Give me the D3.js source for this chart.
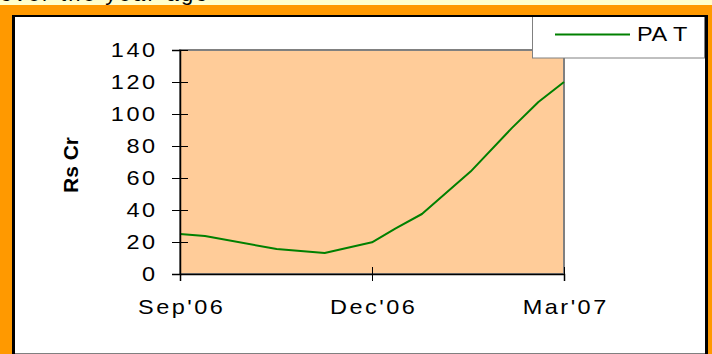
<!DOCTYPE html>
<html>
<head>
<meta charset="utf-8">
<script src="https://cdn.jsdelivr.net/npm/d3@7/dist/d3.min.js"></script>
<style>
  body { margin: 0; background: #fff; }
  svg { display: block; }
  text { font-family: "Liberation Sans", Arial, sans-serif; }
</style>
</head>
<body>
<svg id="chart" width="712" height="354"></svg>
<script>
// ---- Data ----
// Position along the time axis, in months after Sep'06
const monthOffsets = [0, 0.39, 1.51, 2.26, 3.0, 3.37, 3.78, 4.54, 5.18, 5.6, 6.0];
// PAT values, Rs Cr
const patValues    = [25, 23.7, 15.6, 13.1, 19.8, 28.5, 37.5, 64, 91, 107.5, 120];
const seriesName   = "PA T";
const xTickValues  = [0, 3, 6];
const xTickLabels  = ["Sep'06", "Dec'06", "Mar'07"];
const yTickValues  = [0, 20, 40, 60, 80, 100, 120, 140];
const yLabel       = "Rs Cr";
const headerText   = "over the year-ago";

const svg = d3.select("#chart");
const W = 712, H = 354;
const SX = 1.12, LS = 2.2;

// outer frame
svg.append("rect").attr("x", 0).attr("y", 0).attr("width", W).attr("height", H).attr("fill", "#FF9900");
svg.append("rect").attr("x", 0).attr("y", 0).attr("width", W).attr("height", 5).attr("fill", "#FFFFCC");
svg.append("text").attr("x", 0).attr("y", 0.5).attr("font-size", 20)
  .attr("letter-spacing", 2)
  .attr("transform", "scale(1.1,1)").attr("fill", "#000").text(headerText);
svg.append("rect").attr("x", 12).attr("y", 15).attr("width", 696).attr("height", 339).attr("fill", "#000");
svg.append("rect").attr("x", 15).attr("y", 17).attr("width", 690).attr("height", 337).attr("fill", "#fff");
svg.append("line").attr("x1", 15).attr("x2", 705).attr("y1", 353.5).attr("y2", 353.5)
  .attr("stroke", "#808080").attr("stroke-width", 1);

// plot area
const plot = { left: 180, right: 564, top: 50, bottom: 274 };
const x = d3.scaleLinear().domain([0, 6]).range([plot.left, plot.right]);
const y = d3.scaleLinear().domain([0, 140]).range([plot.bottom, plot.top]);

svg.append("rect")
  .attr("x", plot.left).attr("y", plot.top)
  .attr("width", plot.right - plot.left).attr("height", plot.bottom - plot.top)
  .attr("fill", "#FFCC99").attr("stroke", "#808080").attr("stroke-width", 2);

// line
const line = d3.line().x((d, i) => x(monthOffsets[i])).y(d => y(d));
svg.append("path").datum(patValues)
  .attr("d", line).attr("fill", "none")
  .attr("stroke", "#008000").attr("stroke-width", 2).attr("stroke-linejoin", "round");

// y axis
const yAxis = d3.axisLeft(y).tickValues(yTickValues).tickSizeOuter(0).tickSize(8).tickPadding(0);
const gy = svg.append("g").attr("transform", `translate(${plot.left},0)`).call(yAxis);
gy.select(".domain").attr("stroke", "#000").attr("stroke-width", 1.5);
gy.selectAll(".tick line").attr("x1", 8).attr("x2", -8).attr("stroke", "#000");
gy.selectAll(".tick text")
  .attr("font-size", 21).attr("font-family", "Liberation Sans, Arial, sans-serif")
  .attr("letter-spacing", LS)
  .attr("fill", "#000").attr("x", (-25 + LS * SX) / SX).attr("dy", "0.32em")
  .attr("transform", `scale(${SX},1)`);

// x axis
const xAxis = d3.axisBottom(x).tickValues(xTickValues)
  .tickFormat((d, i) => xTickLabels[i]).tickSizeOuter(0).tickSize(7);
const gx = svg.append("g").attr("transform", `translate(0,${plot.bottom})`).call(xAxis);
gx.select(".domain").attr("stroke", "#000").attr("stroke-width", 1.5);
gx.selectAll(".tick line").attr("y1", -7).attr("y2", 7).attr("stroke", "#000");
gx.selectAll(".tick text")
  .attr("font-size", 21).attr("font-family", "Liberation Sans, Arial, sans-serif")
  .attr("letter-spacing", LS)
  .attr("fill", "#000").attr("x", (LS / 2)).attr("y", 40).attr("dy", 0)
  .attr("transform", `scale(${SX},1)`);

// y label
svg.append("text")
  .attr("transform", "translate(78,165) rotate(-90)")
  .attr("text-anchor", "middle")
  .attr("font-size", 21).attr("font-weight", "bold").attr("fill", "#000")
  .text(yLabel);

// legend
const lg = svg.append("g");
lg.append("rect").attr("x", 532.5).attr("y", 16.5).attr("width", 172).attr("height", 41.5)
  .attr("fill", "#fff").attr("stroke", "#808080").attr("stroke-width", 1);
lg.append("line").attr("x1", 555).attr("x2", 630).attr("y1", 34.5).attr("y2", 34.5)
  .attr("stroke", "#008000").attr("stroke-width", 2);
lg.append("text").attr("x", 0).attr("y", 41).attr("font-size", 21).attr("fill", "#000")
  .attr("letter-spacing", 0.5)
  .attr("transform", `translate(637,0) scale(${SX},1)`)
  .text(seriesName);
// restore frame top edge above legend
svg.append("rect").attr("x", 12).attr("y", 15).attr("width", 696).attr("height", 2).attr("fill", "#000");
</script>
</body>
</html>
